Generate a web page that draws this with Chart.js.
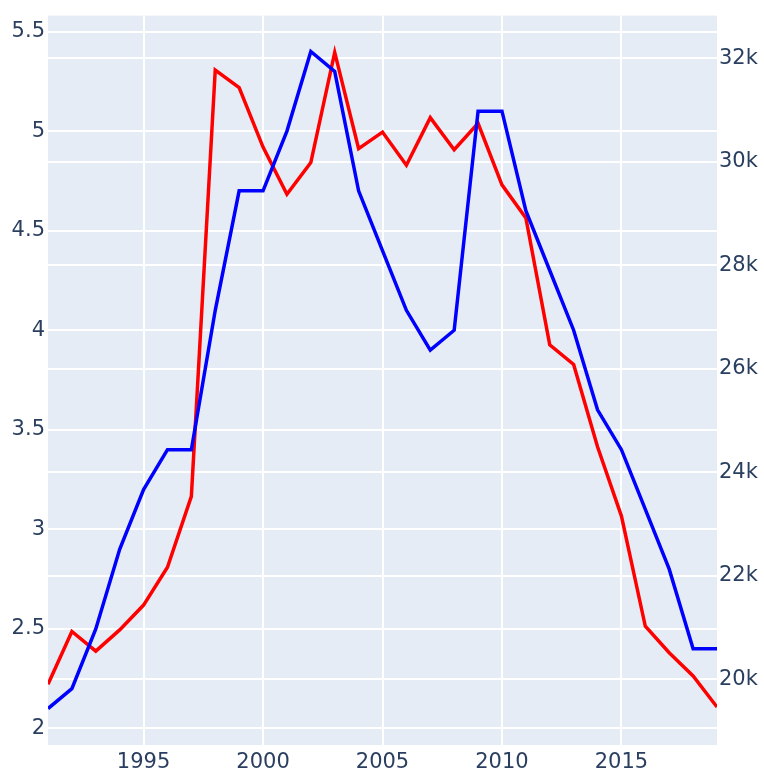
<!DOCTYPE html>
<html>
<head>
<meta charset="utf-8">
<script src="https://cdn.jsdelivr.net/npm/chart.js@4"></script>
<style>
  html, body { margin: 0; padding: 0; background: #fff; }
</style>
</head>
<body>
<canvas id="chart" width="764" height="774"></canvas>
<script>
// years on the x axis
var years = [1991, 1992, 1993, 1994, 1995, 1996, 1997, 1998, 1999, 2000,
  2001, 2002, 2003, 2004, 2005, 2006, 2007, 2008, 2009, 2010,
  2011, 2012, 2013, 2014, 2015, 2016, 2017, 2018, 2019];

// blue line, left axis
var blueVals = [2.1, 2.2, 2.5, 2.9, 3.2, 3.4, 3.4, 4.1, 4.7, 4.7,
  5.0, 5.4, 5.3, 4.7, 4.4, 4.1, 3.9, 4.0, 5.1, 5.1,
  4.6, 4.3, 4.0, 3.6, 3.4, 3.1, 2.8, 2.4, 2.4];

// red line, right axis
var redVals = [19900, 20920, 20540, 20950, 21430, 22160, 23530, 31770, 31430, 30280,
  29370, 29980, 32110, 30250, 30570, 29930, 30850, 30230, 30740, 29550,
  28910, 26460, 26080, 24490, 23150, 21020, 20510, 20060, 19460];

// tick labels
var xTicks = [1995, 2000, 2005, 2010, 2015];
var leftTicks = [2, 2.5, 3, 3.5, 4, 4.5, 5, 5.5];
var rightTicks = [20000, 22000, 24000, 26000, 28000, 30000, 32000];

var txtColor = '#2a3f5f';
var fnt = { family: '"DejaVu Sans", Verdana, sans-serif', size: 21 };

function pts(vals) {
  return years.map(function (y, i) { return { x: y, y: vals[i] }; });
}
function setTicks(list) {
  return function (s) { s.ticks = list.map(function (v) { return { value: v }; }); };
}

// plot background
var bgPlugin = {
  id: 'bg',
  beforeDraw: function (chart) {
    var a = chart.chartArea, c = chart.ctx;
    c.save();
    c.fillStyle = '#E5ECF6';
    c.fillRect(a.left, a.top, a.right - a.left, a.bottom - a.top);
    c.restore();
  }
};

var ctx = document.getElementById('chart').getContext('2d');
new Chart(ctx, {
  type: 'line',
  data: {
    datasets: [
      { data: pts(blueVals), borderColor: '#0000ff', borderWidth: 3.5, pointRadius: 0, yAxisID: 'y', tension: 0 },
      { data: pts(redVals), borderColor: '#ff0000', borderWidth: 3.5, pointRadius: 0, yAxisID: 'y2', tension: 0 }
    ]
  },
  options: {
    responsive: false,
    animation: false,
    layout: { padding: { top: 7, left: 0, right: 0, bottom: 0 } },
    plugins: { legend: { display: false }, tooltip: { enabled: false } },
    scales: {
      x: {
        type: 'linear', min: 1991, max: 2019,
        afterBuildTicks: setTicks(xTicks),
        ticks: { color: txtColor, font: fnt, padding: 5, maxRotation: 0, autoSkip: false,
          callback: function (v) { return String(v); } },
        grid: { color: '#ffffff', lineWidth: 2, drawTicks: false },
        border: { display: false },
        afterFit: function (s) { s.height = 29; }
      },
      y: {
        position: 'left', min: 1.917, max: 5.58,
        afterBuildTicks: setTicks(leftTicks),
        ticks: { color: txtColor, font: fnt, padding: 3, autoSkip: false,
          callback: function (v) { return String(+v.toFixed(1)); } },
        grid: { color: '#ffffff', lineWidth: 2, drawTicks: false },
        border: { display: false },
        afterFit: function (s) { s.width = 48; }
      },
      y2: {
        position: 'right', min: 18726, max: 32821,
        afterBuildTicks: setTicks(rightTicks),
        ticks: { color: txtColor, font: fnt, padding: 2, autoSkip: false,
          callback: function (v) { return (v / 1000) + 'k'; } },
        grid: { color: '#ffffff', lineWidth: 2, drawTicks: false },
        border: { display: false },
        afterFit: function (s) { s.width = 47; }
      }
    }
  },
  plugins: [bgPlugin]
});
</script>
</body>
</html>
